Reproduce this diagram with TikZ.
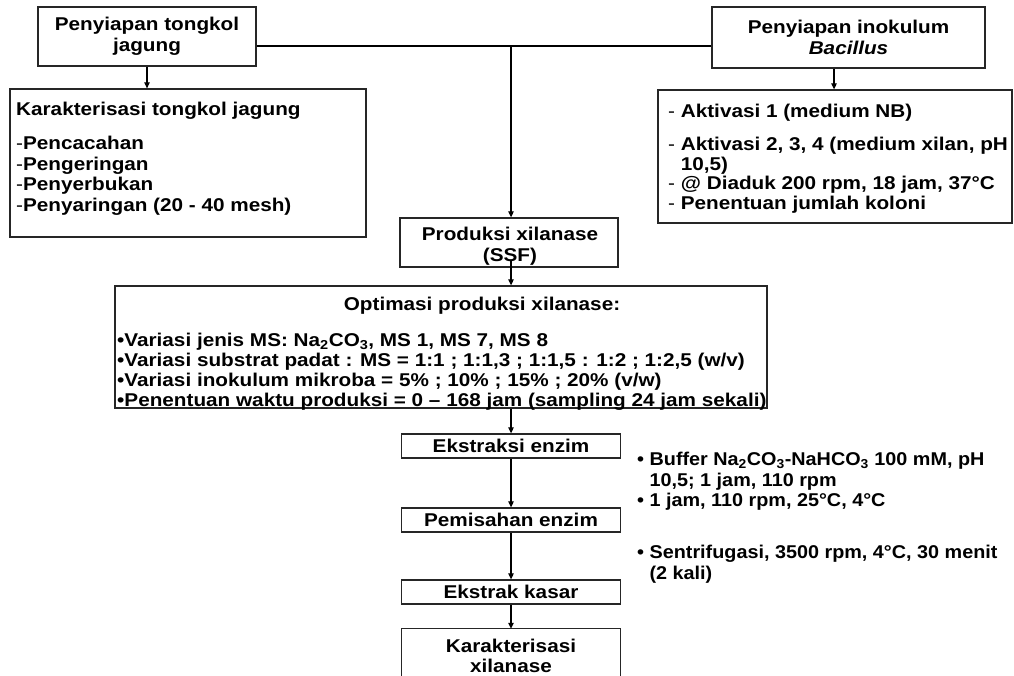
\documentclass[tikz,border=0pt]{standalone}
\usepackage{fontspec}
\setmainfont{Liberation Sans}[FakeStretch=1.12]
\newfontfamily\notefont{Liberation Sans}[FakeStretch=1.07]
\usetikzlibrary{arrows.meta,calc}
\begin{document}
\begin{tikzpicture}[x=1pt,y=-1pt,
  box/.style={draw=black!85, line width=1.3pt, inner sep=0pt, rectangle},
  conn/.style={line width=1.2pt, -{Triangle[length=6pt,width=5.5pt]}},
  plainline/.style={line width=1.2pt},
  txt/.style={font=\fontsize{18.5}{20.5}\selectfont\bfseries, inner sep=0pt, align=left},
  ctxt/.style={txt, align=center},
  notetxt/.style={txt, font=\notefont\fontsize{18.5}{20.5}\selectfont\bfseries},
]
\useasboundingbox (0,0) rectangle (1014,675);
\fill[white] (0,0) rectangle (1014,675);

% top boxes
\node[box, ctxt, minimum width=218pt, minimum height=59pt] (b1) at (147,36.5) {Penyiapan tongkol\\jagung};
\node[box, ctxt, minimum width=273pt, minimum height=61pt] (b2) at (848.5,37.5) {Penyiapan inokulum\\\textit{Bacillus}};

% characterisation box (base anchors = baseline of last line)
\node[box, minimum width=356pt, minimum height=148pt] (b3) at (188,163) {};
\node[txt, anchor=base west] (b3title) at (16,115.5) {Karakterisasi tongkol jagung};
\node[txt, anchor=base west] (b3list) at (16,211) {{\mdseries -}Pencacahan\\{\mdseries -}Pengeringan\\{\mdseries -}Penyerbukan\\{\mdseries -}Penyaringan (20 - 40 mesh)};

% inoculum box
\node[box, minimum width=354pt, minimum height=133pt] (b4) at (835,156.5) {};
\node[txt, anchor=base west, font=\fontsize{18.5}{19.5}\selectfont\bfseries] (b4list) at (668,209) {{\mdseries -} Aktivasi 1 (medium NB)\\[13.5pt]{\mdseries -} Aktivasi 2, 3, 4 (medium xilan, pH\\\phantom{- }10,5)\\{\mdseries -} @ Diaduk 200 rpm, 18 jam, 37°C\\{\mdseries -} Penentuan jumlah koloni};

% production
\node[box, minimum width=218pt, minimum height=49pt] (prod) at (509,242.5) {};
\node[ctxt] (prodt) at (510,246) {Produksi xilanase\\(SSF)};

% optimisation
\node[box, minimum width=652pt, minimum height=122pt] (opt) at (441,347) {};
\node[txt, anchor=base] (opttitle) at (482,310.5) {Optimasi produksi xilanase:};
\node[txt, anchor=base west, font=\fontsize{18.5}{20}\selectfont\bfseries] (optlist) at (117,406.5) {•Variasi jenis MS: Na\textsubscript{2}CO\textsubscript{3}, MS 1, MS 7, MS 8\\•Variasi substrat padat : MS = 1:1 ; 1:1,3 ; 1:1,5 : 1:2 ; 1:2,5 (w/v)\\•Variasi inokulum mikroba = 5\% ; 10\% ; 15\% ; 20\% (v/w)\\•Penentuan waktu produksi = 0 – 168 jam (sampling 24 jam sekali)};

% lower chain
\node[box, ctxt, minimum width=219pt, minimum height=24pt] (ext) at (511,446) {Ekstraksi enzim};
\node[box, ctxt, minimum width=219pt, minimum height=24pt] (pem) at (511,520) {Pemisahan enzim};
\node[box, ctxt, minimum width=219pt, minimum height=24pt] (kas) at (511,592) {Ekstrak kasar};
\node[inner sep=0pt, minimum width=219pt, minimum height=52pt] (kar) at (511,655) {};
\draw[draw=black!85, line width=1.3pt] (kar.south west) -- (kar.north west) -- (kar.north east) -- (kar.south east);
\node[ctxt] (kart) at (511,656) {Karakterisasi\\xilanase};

% side notes
\node[notetxt, anchor=base west] (note1) at (637,506.5) {• Buffer Na\textsubscript{2}CO\textsubscript{3}-NaHCO\textsubscript{3} 100 mM, pH\\\phantom{• }10,5; 1 jam, 110 rpm\\• 1 jam, 110 rpm, 25°C, 4°C};
\node[notetxt, anchor=base west] (note2) at (637,579) {• Sentrifugasi, 3500 rpm, 4°C, 30 menit\\\phantom{• }(2 kali)};

% connectors
\coordinate (j) at (511,46);
\draw[plainline] (b1.east |- j) -- (b2.west |- j);
\draw[conn] (j) -- (j |- prod.north);
\draw[conn] (b1.south) -- (b1.south |- b3.north);
\coordinate (k) at (834,60);
\draw[conn] (k |- b2.south) -- (k |- b4.north);
\draw[conn] ($(prod.south)+(2,-7)$) -- ($(prod.south |- opt.north)+(2,0)$);
\draw[conn] (ext.north |- opt.south) -- (ext.north);
\draw[conn] (ext.south) -- (pem.north);
\draw[conn] (pem.south) -- (kas.north);
\draw[conn] (kas.south) -- (kar.north);
\end{tikzpicture}
\end{document}
